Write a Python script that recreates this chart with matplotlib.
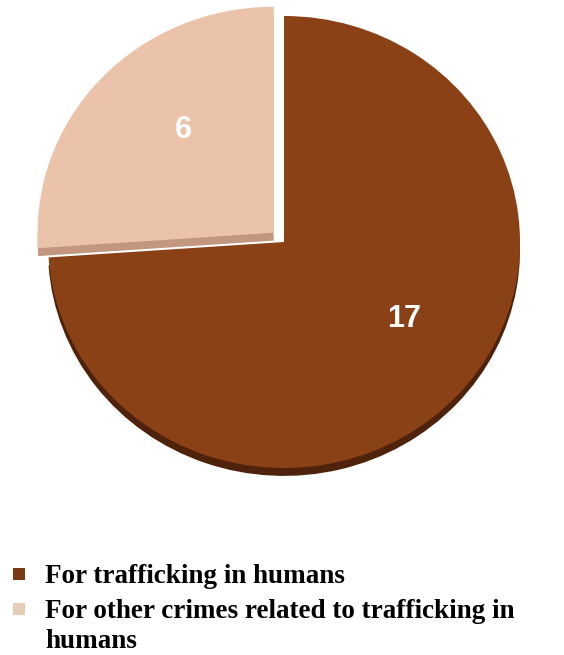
import matplotlib.pyplot as plt
from matplotlib.patches import Rectangle

# data
labels = ['For trafficking in humans',
          'For other crimes related to trafficking in\nhumans']
values = [17, 6]
colors = ['#8a4116', '#ebc3aa']
depth_colors = ['#4f230b', '#c3967f']
legend_colors = ['#7a3a16', '#e6cdb8']

W, H = 564, 655
fig = plt.figure(figsize=(W / 100, H / 100), dpi=100)
ax = fig.add_axes([0, 0, 1, 1])

explode = [0, 0.06]

# thin "3D" base under the pie
ax.pie(values, colors=depth_colors, startangle=90, counterclock=False,
       explode=explode, center=(0, -0.035),
       wedgeprops=dict(linewidth=0, zorder=1))

wedges, texts = ax.pie(values, colors=colors, startangle=90, counterclock=False,
                       explode=explode, labels=[str(v) for v in values],
                       labeldistance=0.62,
                       wedgeprops=dict(linewidth=0, zorder=2),
                       textprops=dict(color='white', fontsize=22, fontweight='bold',
                                      family='Liberation Sans', zorder=3))

# one pie unit = rx px horizontally, ry px vertically
cx, cy, rx, ry = 284, 242, 236, 226
ax.set_aspect('auto')
ax.set_xlim(-cx / rx, (W - cx) / rx)
ax.set_ylim(-(H - cy) / ry, cy / ry)
ax.axis('off')

# the original labels sit a little off the bisector
nudges = [(0.055, 0.082), (0.069, 0.032)]
for t, (dx, dy) in zip(texts, nudges):
    x, y = t.get_position()
    t.set_position((x + dx, y + dy))
    t.set_ha('center')
    t.set_va('center')

# legend drawn by hand
start = [583, 618]
for i, lab in enumerate(labels):
    fig.add_artist(Rectangle((13 / W, 1 - (start[i] - 3) / H), 12 / W, 12 / H,
                             transform=fig.transFigure, color=legend_colors[i], lw=0))
    for j, line in enumerate(lab.split('\n')):
        fig.text(45 / W, 1 - (start[i] + 30 * j) / H, line, fontsize=19.5,
                 fontweight='bold', family='Liberation Serif', va='baseline', ha='left')

fig.savefig('out.png', dpi=100, facecolor='white')
